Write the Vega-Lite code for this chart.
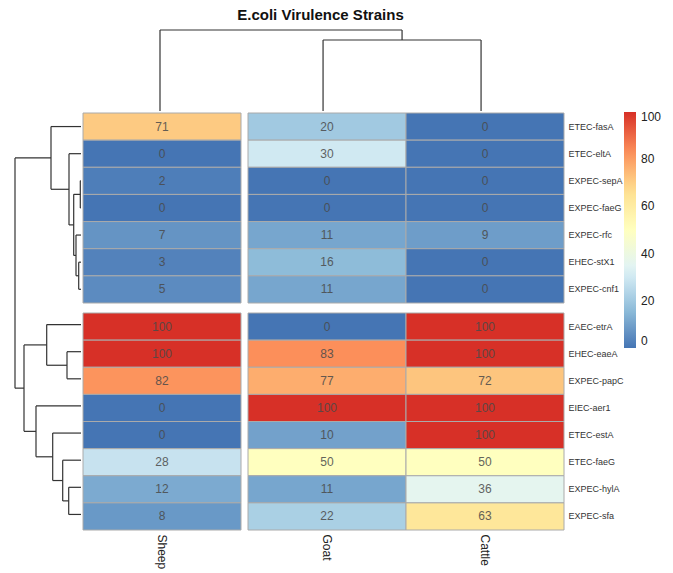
{
  "$schema": "https://vega.github.io/schema/vega-lite/v6.json",
  "background": "white",
  "padding": {"left": 14, "top": 8, "right": 5, "bottom": 0},
  "config": {
    "view": {"stroke": null},
    "concat": {"spacing": 0},
    "font": "Liberation Sans, Arial, sans-serif"
  },
  "datasets": {
    "cells": [
      {"gene": "ETEC-fasA", "animal": "Sheep", "value": 71, "rowcluster": 1, "colcluster": 1},
      {"gene": "ETEC-fasA", "animal": "Goat", "value": 20, "rowcluster": 1, "colcluster": 2},
      {"gene": "ETEC-fasA", "animal": "Cattle", "value": 0, "rowcluster": 1, "colcluster": 2},
      {"gene": "ETEC-eltA", "animal": "Sheep", "value": 0, "rowcluster": 1, "colcluster": 1},
      {"gene": "ETEC-eltA", "animal": "Goat", "value": 30, "rowcluster": 1, "colcluster": 2},
      {"gene": "ETEC-eltA", "animal": "Cattle", "value": 0, "rowcluster": 1, "colcluster": 2},
      {"gene": "EXPEC-sepA", "animal": "Sheep", "value": 2, "rowcluster": 1, "colcluster": 1},
      {"gene": "EXPEC-sepA", "animal": "Goat", "value": 0, "rowcluster": 1, "colcluster": 2},
      {"gene": "EXPEC-sepA", "animal": "Cattle", "value": 0, "rowcluster": 1, "colcluster": 2},
      {"gene": "EXPEC-faeG", "animal": "Sheep", "value": 0, "rowcluster": 1, "colcluster": 1},
      {"gene": "EXPEC-faeG", "animal": "Goat", "value": 0, "rowcluster": 1, "colcluster": 2},
      {"gene": "EXPEC-faeG", "animal": "Cattle", "value": 0, "rowcluster": 1, "colcluster": 2},
      {"gene": "EXPEC-rfc", "animal": "Sheep", "value": 7, "rowcluster": 1, "colcluster": 1},
      {"gene": "EXPEC-rfc", "animal": "Goat", "value": 11, "rowcluster": 1, "colcluster": 2},
      {"gene": "EXPEC-rfc", "animal": "Cattle", "value": 9, "rowcluster": 1, "colcluster": 2},
      {"gene": "EHEC-stX1", "animal": "Sheep", "value": 3, "rowcluster": 1, "colcluster": 1},
      {"gene": "EHEC-stX1", "animal": "Goat", "value": 16, "rowcluster": 1, "colcluster": 2},
      {"gene": "EHEC-stX1", "animal": "Cattle", "value": 0, "rowcluster": 1, "colcluster": 2},
      {"gene": "EXPEC-cnf1", "animal": "Sheep", "value": 5, "rowcluster": 1, "colcluster": 1},
      {"gene": "EXPEC-cnf1", "animal": "Goat", "value": 11, "rowcluster": 1, "colcluster": 2},
      {"gene": "EXPEC-cnf1", "animal": "Cattle", "value": 0, "rowcluster": 1, "colcluster": 2},
      {"gene": "EAEC-etrA", "animal": "Sheep", "value": 100, "rowcluster": 2, "colcluster": 1},
      {"gene": "EAEC-etrA", "animal": "Goat", "value": 0, "rowcluster": 2, "colcluster": 2},
      {"gene": "EAEC-etrA", "animal": "Cattle", "value": 100, "rowcluster": 2, "colcluster": 2},
      {"gene": "EHEC-eaeA", "animal": "Sheep", "value": 100, "rowcluster": 2, "colcluster": 1},
      {"gene": "EHEC-eaeA", "animal": "Goat", "value": 83, "rowcluster": 2, "colcluster": 2},
      {"gene": "EHEC-eaeA", "animal": "Cattle", "value": 100, "rowcluster": 2, "colcluster": 2},
      {"gene": "EXPEC-papC", "animal": "Sheep", "value": 82, "rowcluster": 2, "colcluster": 1},
      {"gene": "EXPEC-papC", "animal": "Goat", "value": 77, "rowcluster": 2, "colcluster": 2},
      {"gene": "EXPEC-papC", "animal": "Cattle", "value": 72, "rowcluster": 2, "colcluster": 2},
      {"gene": "EIEC-aer1", "animal": "Sheep", "value": 0, "rowcluster": 2, "colcluster": 1},
      {"gene": "EIEC-aer1", "animal": "Goat", "value": 100, "rowcluster": 2, "colcluster": 2},
      {"gene": "EIEC-aer1", "animal": "Cattle", "value": 100, "rowcluster": 2, "colcluster": 2},
      {"gene": "ETEC-estA", "animal": "Sheep", "value": 0, "rowcluster": 2, "colcluster": 1},
      {"gene": "ETEC-estA", "animal": "Goat", "value": 10, "rowcluster": 2, "colcluster": 2},
      {"gene": "ETEC-estA", "animal": "Cattle", "value": 100, "rowcluster": 2, "colcluster": 2},
      {"gene": "ETEC-faeG", "animal": "Sheep", "value": 28, "rowcluster": 2, "colcluster": 1},
      {"gene": "ETEC-faeG", "animal": "Goat", "value": 50, "rowcluster": 2, "colcluster": 2},
      {"gene": "ETEC-faeG", "animal": "Cattle", "value": 50, "rowcluster": 2, "colcluster": 2},
      {"gene": "EXPEC-hylA", "animal": "Sheep", "value": 12, "rowcluster": 2, "colcluster": 1},
      {"gene": "EXPEC-hylA", "animal": "Goat", "value": 11, "rowcluster": 2, "colcluster": 2},
      {"gene": "EXPEC-hylA", "animal": "Cattle", "value": 36, "rowcluster": 2, "colcluster": 2},
      {"gene": "EXPEC-sfa", "animal": "Sheep", "value": 8, "rowcluster": 2, "colcluster": 1},
      {"gene": "EXPEC-sfa", "animal": "Goat", "value": 22, "rowcluster": 2, "colcluster": 2},
      {"gene": "EXPEC-sfa", "animal": "Cattle", "value": 63, "rowcluster": 2, "colcluster": 2}
    ],
    "rowtree": [
      {"h1": 0.7, "p1": 2.5, "h2": 0.7, "p2": 3.5},
      {"h1": 0.7, "p1": 2.5, "h2": 0, "p2": 2.5},
      {"h1": 0.7, "p1": 3.5, "h2": 0, "p2": 3.5},
      {"h1": 2.3, "p1": 5.5, "h2": 2.3, "p2": 6.5},
      {"h1": 2.3, "p1": 5.5, "h2": 0, "p2": 5.5},
      {"h1": 2.3, "p1": 6.5, "h2": 0, "p2": 6.5},
      {"h1": 5, "p1": 4.5, "h2": 5, "p2": 6},
      {"h1": 5, "p1": 4.5, "h2": 0, "p2": 4.5},
      {"h1": 5, "p1": 6, "h2": 2.3, "p2": 6},
      {"h1": 7.3, "p1": 3, "h2": 7.3, "p2": 5.25},
      {"h1": 7.3, "p1": 3, "h2": 0.7, "p2": 3},
      {"h1": 7.3, "p1": 5.25, "h2": 5, "p2": 5.25},
      {"h1": 12, "p1": 1.5, "h2": 12, "p2": 4.125},
      {"h1": 12, "p1": 1.5, "h2": 0, "p2": 1.5},
      {"h1": 12, "p1": 4.125, "h2": 7.3, "p2": 4.125},
      {"h1": 30, "p1": 0.5, "h2": 30, "p2": 2.8125},
      {"h1": 30, "p1": 0.5, "h2": 0, "p2": 0.5},
      {"h1": 30, "p1": 2.8125, "h2": 12, "p2": 2.8125},
      {"h1": 14, "p1": 8.8, "h2": 14, "p2": 9.8},
      {"h1": 14, "p1": 8.8, "h2": 0, "p2": 8.8},
      {"h1": 14, "p1": 9.8, "h2": 0, "p2": 9.8},
      {"h1": 34.3, "p1": 7.8, "h2": 34.3, "p2": 9.3},
      {"h1": 34.3, "p1": 7.8, "h2": 0, "p2": 7.8},
      {"h1": 34.3, "p1": 9.3, "h2": 14, "p2": 9.3},
      {"h1": 12.3, "p1": 13.8, "h2": 12.3, "p2": 14.8},
      {"h1": 12.3, "p1": 13.8, "h2": 0, "p2": 13.8},
      {"h1": 12.3, "p1": 14.8, "h2": 0, "p2": 14.8},
      {"h1": 18.3, "p1": 12.8, "h2": 18.3, "p2": 14.3},
      {"h1": 18.3, "p1": 12.8, "h2": 0, "p2": 12.8},
      {"h1": 18.3, "p1": 14.3, "h2": 12.3, "p2": 14.3},
      {"h1": 28.3, "p1": 11.8, "h2": 28.3, "p2": 13.55},
      {"h1": 28.3, "p1": 11.8, "h2": 0, "p2": 11.8},
      {"h1": 28.3, "p1": 13.55, "h2": 18.3, "p2": 13.55},
      {"h1": 45, "p1": 10.8, "h2": 45, "p2": 12.675},
      {"h1": 45, "p1": 10.8, "h2": 0, "p2": 10.8},
      {"h1": 45, "p1": 12.675, "h2": 28.3, "p2": 12.675},
      {"h1": 57, "p1": 8.55, "h2": 57, "p2": 11.7375},
      {"h1": 57, "p1": 8.55, "h2": 34.3, "p2": 8.55},
      {"h1": 57, "p1": 11.7375, "h2": 45, "p2": 11.7375},
      {"h1": 66, "p1": 1.65625, "h2": 66, "p2": 10.14375},
      {"h1": 66, "p1": 1.65625, "h2": 30, "p2": 1.65625},
      {"h1": 66, "p1": 10.14375, "h2": 57, "p2": 10.14375}
    ],
    "coltree": [
      {"p1": 1.532, "h1": 0, "p2": 1.532, "h2": 71},
      {"p1": 2.532, "h1": 0, "p2": 2.532, "h2": 71},
      {"p1": 1.532, "h1": 71, "p2": 2.532, "h2": 71},
      {"p1": 0.5, "h1": 0, "p2": 0.5, "h2": 81},
      {"p1": 2.032, "h1": 71, "p2": 2.032, "h2": 81},
      {"p1": 0.5, "h1": 81, "p2": 2.032, "h2": 81}
    ]
  },
  "vconcat": [
    {
      "spacing": 0,
      "hconcat": [
        {
          "width": 66, "height": 81,
          "data": {"values": [{"a": 1}]},
          "mark": {"type": "point", "opacity": 0}
        },
        {
          "width": 479, "height": 81,
          "title": {"text": "E.coli Virulence Strains", "fontSize": 15, "fontWeight": "bold", "anchor": "middle", "offset": 6, "color": "#111111", "font": "Liberation Sans, Arial, sans-serif"},
          "data": {"name": "coltree"},
          "mark": {"type": "rule", "color": "#333333", "strokeWidth": 1.2},
          "encoding": {
            "x": {"field": "p1", "type": "quantitative", "scale": {"domain": [0, 3.0316], "nice": false, "zero": false}, "axis": null},
            "x2": {"field": "p2"},
            "y": {"field": "h1", "type": "quantitative", "scale": {"domain": [0, 81], "nice": false}, "axis": null},
            "y2": {"field": "h2"}
          }
        }
      ]
    },
    {
      "spacing": 0,
      "hconcat": [
        {
          "width": 66, "height": 415,
          "data": {"name": "rowtree"},
          "mark": {"type": "rule", "color": "#333333", "strokeWidth": 1.2},
          "encoding": {
            "x": {"field": "h1", "type": "quantitative", "scale": {"domain": [0, 66], "nice": false, "reverse": true}, "axis": null},
            "x2": {"field": "h2"},
            "y": {"field": "p1", "type": "quantitative", "scale": {"domain": [0, 15.3], "nice": false, "zero": false, "reverse": true}, "axis": null},
            "y2": {"field": "p2"}
          }
        },
        {
          "spacing": 8,
          "vconcat": [
            {
              "spacing": 5,
              "hconcat": [
                {
                  "width": 158, "height": 190,
                  "data": {"name": "cells"},
                  "transform": [{"filter": "datum.rowcluster == 1 && datum.colcluster == 1"}],
                  "encoding": {
                    "x": {"field": "animal", "type": "nominal", "sort": ["Sheep"], "axis": null},
                    "y": {"field": "gene", "type": "nominal", "sort": ["ETEC-fasA", "ETEC-eltA", "EXPEC-sepA", "EXPEC-faeG", "EXPEC-rfc", "EHEC-stX1", "EXPEC-cnf1"], "axis": null}
                  },
                  "layer": [
                    {
                      "mark": {"type": "rect", "stroke": "#aaaaaa", "strokeWidth": 1},
                      "encoding": {
                        "color": {"field": "value", "type": "quantitative",
                          "scale": {"domain": [0, 16.667, 33.333, 50, 66.667, 83.333, 100], "range": ["#4575B4", "#91BFDB", "#E0F3F8", "#FFFFBF", "#FEE090", "#FC8D59", "#D73027"], "interpolate": "rgb"},
                          "legend": {"orient": "none", "legendX": 609, "legendY": 82, "title": null, "direction": "vertical", "gradientLength": 236, "gradientThickness": 12, "gradientStrokeWidth": 0, "values": [0, 20, 40, 60, 80, 100], "labelFontSize": 12, "labelColor": "#222222", "labelOffset": 5}
                        }
                      }
                    },
                    {
                      "mark": {"type": "text", "fontSize": 12, "color": "#4a4a4a", "opacity": 0.85},
                      "encoding": {"text": {"field": "value", "type": "quantitative", "format": "d"}}
                    }
                  ]
                },
                {
                  "width": 316, "height": 190,
                  "data": {"name": "cells"},
                  "transform": [{"filter": "datum.rowcluster == 1 && datum.colcluster == 2"}],
                  "encoding": {
                    "x": {"field": "animal", "type": "nominal", "sort": ["Goat", "Cattle"], "axis": null},
                    "y": {"field": "gene", "type": "nominal", "sort": ["ETEC-fasA", "ETEC-eltA", "EXPEC-sepA", "EXPEC-faeG", "EXPEC-rfc", "EHEC-stX1", "EXPEC-cnf1"],
                      "axis": {"orient": "right", "ticks": false, "domain": false, "title": null, "labelPadding": 4, "labelFontSize": 9, "labelColor": "#333333"}}
                  },
                  "layer": [
                    {
                      "mark": {"type": "rect", "stroke": "#aaaaaa", "strokeWidth": 1},
                      "encoding": {
                        "color": {"field": "value", "type": "quantitative",
                          "scale": {"domain": [0, 16.667, 33.333, 50, 66.667, 83.333, 100], "range": ["#4575B4", "#91BFDB", "#E0F3F8", "#FFFFBF", "#FEE090", "#FC8D59", "#D73027"], "interpolate": "rgb"},
                          "legend": {"orient": "none", "legendX": 609, "legendY": 82, "title": null, "direction": "vertical", "gradientLength": 236, "gradientThickness": 12, "gradientStrokeWidth": 0, "values": [0, 20, 40, 60, 80, 100], "labelFontSize": 12, "labelColor": "#222222", "labelOffset": 5}
                        }
                      }
                    },
                    {
                      "mark": {"type": "text", "fontSize": 12, "color": "#4a4a4a", "opacity": 0.85},
                      "encoding": {"text": {"field": "value", "type": "quantitative", "format": "d"}}
                    }
                  ]
                }
              ]
            },
            {
              "spacing": 5,
              "hconcat": [
                {
                  "width": 158, "height": 217,
                  "data": {"name": "cells"},
                  "transform": [{"filter": "datum.rowcluster == 2 && datum.colcluster == 1"}],
                  "encoding": {
                    "x": {"field": "animal", "type": "nominal", "sort": ["Sheep"],
                      "axis": {"orient": "bottom", "labelAngle": 90, "ticks": false, "domain": false, "title": null, "labelPadding": 4, "labelFontSize": 12, "labelColor": "#222222"}},
                    "y": {"field": "gene", "type": "nominal", "sort": ["EAEC-etrA", "EHEC-eaeA", "EXPEC-papC", "EIEC-aer1", "ETEC-estA", "ETEC-faeG", "EXPEC-hylA", "EXPEC-sfa"], "axis": null}
                  },
                  "layer": [
                    {
                      "mark": {"type": "rect", "stroke": "#aaaaaa", "strokeWidth": 1},
                      "encoding": {
                        "color": {"field": "value", "type": "quantitative",
                          "scale": {"domain": [0, 16.667, 33.333, 50, 66.667, 83.333, 100], "range": ["#4575B4", "#91BFDB", "#E0F3F8", "#FFFFBF", "#FEE090", "#FC8D59", "#D73027"], "interpolate": "rgb"},
                          "legend": {"orient": "none", "legendX": 609, "legendY": 82, "title": null, "direction": "vertical", "gradientLength": 236, "gradientThickness": 12, "gradientStrokeWidth": 0, "values": [0, 20, 40, 60, 80, 100], "labelFontSize": 12, "labelColor": "#222222", "labelOffset": 5}
                        }
                      }
                    },
                    {
                      "mark": {"type": "text", "fontSize": 12, "color": "#4a4a4a", "opacity": 0.85},
                      "encoding": {"text": {"field": "value", "type": "quantitative", "format": "d"}}
                    }
                  ]
                },
                {
                  "width": 316, "height": 217,
                  "data": {"name": "cells"},
                  "transform": [{"filter": "datum.rowcluster == 2 && datum.colcluster == 2"}],
                  "encoding": {
                    "x": {"field": "animal", "type": "nominal", "sort": ["Goat", "Cattle"],
                      "axis": {"orient": "bottom", "labelAngle": 90, "ticks": false, "domain": false, "title": null, "labelPadding": 4, "labelFontSize": 12, "labelColor": "#222222"}},
                    "y": {"field": "gene", "type": "nominal", "sort": ["EAEC-etrA", "EHEC-eaeA", "EXPEC-papC", "EIEC-aer1", "ETEC-estA", "ETEC-faeG", "EXPEC-hylA", "EXPEC-sfa"],
                      "axis": {"orient": "right", "ticks": false, "domain": false, "title": null, "labelPadding": 4, "labelFontSize": 9, "labelColor": "#333333"}}
                  },
                  "layer": [
                    {
                      "mark": {"type": "rect", "stroke": "#aaaaaa", "strokeWidth": 1},
                      "encoding": {
                        "color": {"field": "value", "type": "quantitative",
                          "scale": {"domain": [0, 16.667, 33.333, 50, 66.667, 83.333, 100], "range": ["#4575B4", "#91BFDB", "#E0F3F8", "#FFFFBF", "#FEE090", "#FC8D59", "#D73027"], "interpolate": "rgb"},
                          "legend": {"orient": "none", "legendX": 609, "legendY": 82, "title": null, "direction": "vertical", "gradientLength": 236, "gradientThickness": 12, "gradientStrokeWidth": 0, "values": [0, 20, 40, 60, 80, 100], "labelFontSize": 12, "labelColor": "#222222", "labelOffset": 5}
                        }
                      }
                    },
                    {
                      "mark": {"type": "text", "fontSize": 12, "color": "#4a4a4a", "opacity": 0.85},
                      "encoding": {"text": {"field": "value", "type": "quantitative", "format": "d"}}
                    }
                  ]
                }
              ]
            }
          ]
        }
      ]
    }
  ]
}
